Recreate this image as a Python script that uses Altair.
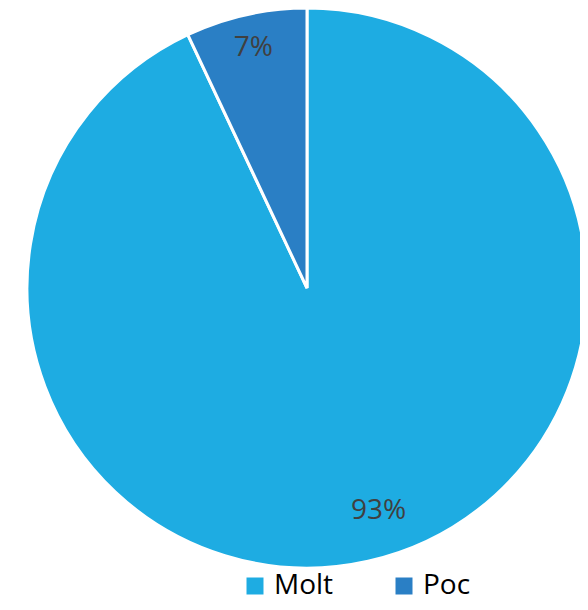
import altair as alt
import pandas as pd

categories = ["Molt", "Poc"]
values = [93, 7]
labels = ["93%", "7%"]
colors = ["#1EACE2", "#2A7FC5"]

df = pd.DataFrame({"cat": categories, "val": values, "label": labels, "order": [0, 1]})

CX, CY, R = 299, 280, 280

base = alt.Chart(df).encode(
    theta=alt.Theta("val:Q", stack=True),
    order=alt.Order("order:Q"),
    x=alt.value(CX),
    y=alt.value(CY),
)

pie = base.mark_arc(stroke="white", strokeWidth=3, radius=R).encode(
    color=alt.Color(
        "cat:N",
        scale=alt.Scale(domain=categories, range=colors),
        legend=alt.Legend(
            title=None,
            orient="none",
            legendX=233,
            legendY=564,
            padding=0,
            direction="horizontal",
            symbolType="square",
            symbolSize=289,
            symbolStrokeWidth=0,
            labelFont="Open Sans",
            labelFontSize=28,
            labelColor="#000000",
            labelOffset=5,
            columnPadding=56,
        ),
    )
)

label_base = (
    alt.Chart(df)
    .transform_window(cum="sum(val)", sort=[alt.SortField("order")])
    .transform_calculate(mid="datum.cum - datum.val / 2")
    .encode(
        theta=alt.Theta("mid:Q", scale=alt.Scale(domain=[0, 100]), stack=None),
        x=alt.value(CX),
        y=alt.value(CY),
        text="label:N",
    )
)

text_poc = label_base.transform_filter(alt.datum.cat == "Poc").mark_text(
    radius=246, font="Open Sans", fontSize=28, color="#404040"
)

text_molt = label_base.transform_filter(alt.datum.cat == "Molt").mark_text(
    radius=246, font="Open Sans", fontSize=28, color="#404040", dx=18, dy=-17
)

chart = (
    (pie + text_poc + text_molt)
    .properties(width=572, height=594, padding=0, autosize=alt.AutoSizeParams(type="none"))
    .configure_view(stroke=None)
)

chart.save("out.html", embed_options={"renderer": "svg", "actions": False})
